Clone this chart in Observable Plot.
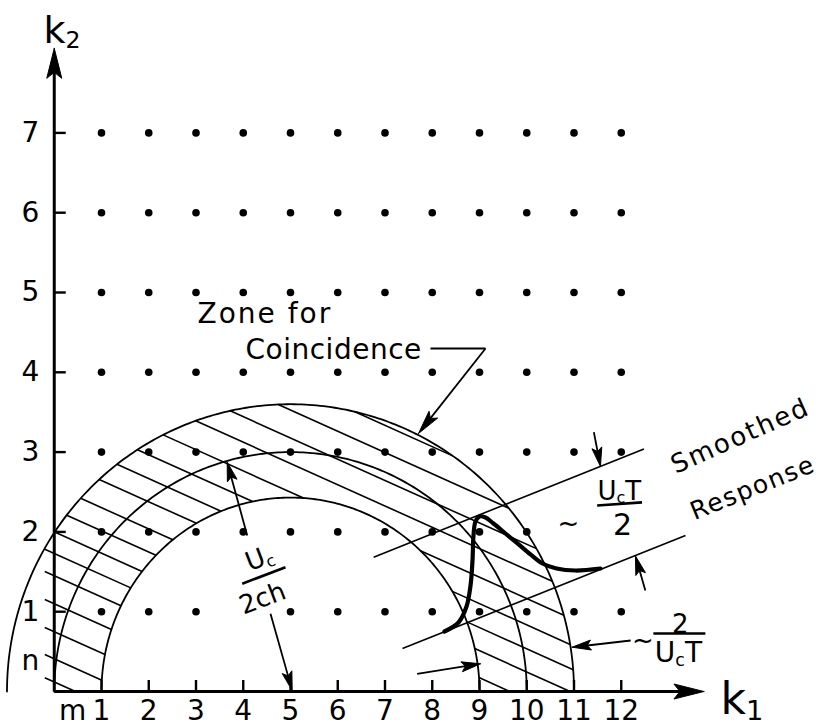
<!DOCTYPE html>
<html><head><meta charset="utf-8">
<script src="https://cdn.jsdelivr.net/npm/d3@7"></script>
<script src="https://cdn.jsdelivr.net/npm/@observablehq/plot@0.6"></script>
<style>html,body{margin:0;padding:0;background:#fff;} svg{display:block}</style>
</head><body><div id="chart"></div>
<script>
// ---------------- data ----------------
const k1Values = [1,2,3,4,5,6,7,8,9,10,11,12];
const k2Values = [1,2,3,4,5,6,7];
const hiddenDots = [[4,1],[11,2],[12,2]];
const xTickValues = [0.39,1,2,3,4,5,6,7,8,9,10,11,12];
const xTickLabels = ["m","1","2","3","4","5","6","7","8","9","10","11","12"];
const yTickValues = [0.38,1,2,3,4,5,6,7];
const yTickLabels = ["n","1","2","3","4","5","6","7"];

const circleCenter = 5;
const circleRx = [4, 5, 6];
const circleRy = [2.43, 3.0, 3.6];

const hatchIntercepts = [0.12,0.41,0.75,1.1,1.45,1.73,2.0,2.28,2.57,2.91,3.2,3.5,3.83,4.19,4.51,4.86,5.2];
const hatchSlope = -0.2665;
const hatchLeftLimit = -0.2;

const responseK1 = [8.259,8.556,8.725,8.810,8.852,8.873,8.915,9.0,9.127,9.296,9.550,9.804,10.079,10.333,10.630,11.032,11.561];
const responseK2 = [0.752,0.865,1.065,1.328,1.642,1.955,2.130,2.193,2.180,2.105,1.980,1.855,1.717,1.604,1.541,1.516,1.541];

const boundLines = [
  {x1:6.76, y1:1.683, x2:12.48, y2:3.04},
  {x1:7.37, y1:0.539, x2:13.36, y2:1.955}
];

const arrows = [
  {x1:0, y1:0, x2:13.75, y2:0, kind:"axis"},
  {x1:0, y1:0, x2:0, y2:8.06, kind:"axis"},
  {x1:9.127, y1:4.298, x2:7.709, y2:3.233, kind:"big"},
  {x1:11.42, y1:3.25, x2:11.56, y2:2.82, kind:"small"},
  {x1:12.51, y1:1.266, x2:12.30, y2:1.70, kind:"small"},
  {x1:12.20, y1:0.639, x2:10.96, y2:0.555, kind:"small"},
  {x1:7.68, y1:0.222, x2:9.02, y2:0.347, kind:"small"},
  {x1:4.084, y1:1.955, x2:3.660, y2:2.873, kind:"small"},
  {x1:4.577, y1:0.974, x2:5.036, y2:0.0125, kind:"small"}
];
const leaderLines = [{x1:7.963, y1:4.298, x2:9.127, y2:4.298}];

const fractionBars = [
  {x1:11.49, y1:2.33, x2:12.44, y2:2.37},
  {x1:12.68, y1:0.727, x2:13.78, y2:0.727},
  {x1:3.978, y1:1.35, x2:4.894, y2:1.558}
];

const labels = [
  {t:"Zone for", x:3.032, y:4.73, size:28, anchor:"start"},
  {t:"Coincidence", x:4.048, y:4.273, size:28, anchor:"start"},
  {t:"Smoothed", x:14.52, y:3.2, size:26, rotate:-24},
  {t:"Response", x:14.78, y:2.55, size:25, rotate:-22},
  {t:"~", x:10.88, y:2.105, size:26},
  {t:"U_cT", x:11.96, y:2.506, size:26},
  {t:"2", x:12.03, y:2.08, size:30},
  {t:"~", x:12.46, y:0.639, size:26},
  {t:"2", x:13.25, y:0.84, size:26},
  {t:"U_cT", x:13.21, y:0.476, size:28},
  {t:"U_c", x:4.344, y:1.667, size:26, rotate:-21},
  {t:"2ch", x:4.407, y:1.165, size:26, rotate:-21},
  {t:"k_2", x:-0.228, y:8.13, size:38, anchor:"start", line:"bottom"},
  {t:"k_1", x:14.1, y:-0.276, size:44, anchor:"start", line:"bottom"}
];

// ---------------- geometry helpers ----------------
const W = 824, H = 727;
const mL = 53.75, mR = 203.25, mT = 132.4, mB = 36;
const sx = d3.scaleLinear([0, 12], [mL, W - mR]);
const sy = d3.scaleLinear([0, 7], [H - mB, mT]);

const dots = [];
for (const b of k2Values) for (const a of k1Values)
  if (!hiddenDots.some(([p,q]) => p === a && q === b)) dots.push({k1:a, k2:b});

const circlePts = [];
circleRx.forEach((rx, i) => {
  const ry = circleRy[i];
  for (let j = 0; j <= 240; j++) {
    const t = Math.PI * j / 240;
    circlePts.push({id:i, x: circleCenter + rx*Math.cos(t), y: ry*Math.sin(t)});
  }
});

function ellipseSpan(b, rx, ry) {
  const s = hatchSlope, c = circleCenter;
  const A = 1/(rx*rx) + s*s/(ry*ry);
  const B = -2*c/(rx*rx) + 2*b*s/(ry*ry);
  const C = c*c/(rx*rx) + b*b/(ry*ry) - 1;
  const D = B*B - 4*A*C;
  if (D <= 0) return null;
  const r = Math.sqrt(D);
  return [(-B - r)/(2*A), (-B + r)/(2*A)];
}
const hatch = [];
for (const b of hatchIntercepts) {
  const outer = ellipseSpan(b, circleRx[2], circleRy[2]);
  if (!outer) continue;
  const lo = Math.max(outer[0], hatchLeftLimit);
  const hi = Math.min(outer[1], -b/hatchSlope);
  if (lo >= hi) continue;
  const inner = ellipseSpan(b, circleRx[0], circleRy[0]);
  let segs = inner ? [[lo, Math.min(hi, inner[0])], [Math.max(lo, inner[1]), hi]] : [[lo, hi]];
  for (const [a, c] of segs) if (c - a > 1e-3)
    hatch.push({x1:a, y1:b + hatchSlope*a, x2:c, y2:b + hatchSlope*c});
}

const headStyle = {axis:{len:30, hw:7.5, sw:3}, big:{len:24, hw:5.5, sw:1.8}, small:{len:19, hw:5, sw:1.8}};
const shafts = [], heads = [];
arrows.forEach((a, i) => {
  const st = headStyle[a.kind];
  const X1 = sx(a.x1), Y1 = sy(a.y1), X2 = sx(a.x2), Y2 = sy(a.y2);
  const L = Math.hypot(X2 - X1, Y2 - Y1), ux = (X2 - X1)/L, uy = (Y2 - Y1)/L;
  const bx = X2 - ux*st.len, by = Y2 - uy*st.len;
  const nx = X2 - ux*st.len*0.8, ny = Y2 - uy*st.len*0.8;
  shafts.push({x1:a.x1, y1:a.y1, x2:sx.invert(nx), y2:sy.invert(ny), sw:st.sw});
  const pts = [[X2,Y2],[bx - uy*st.hw, by + ux*st.hw],[nx, ny],[bx + uy*st.hw, by - ux*st.hw],[X2,Y2]];
  pts.forEach(([px,py]) => heads.push({id:i, x:sx.invert(px), y:sy.invert(py)}));
});

const responseCurve = responseK1.map((v, i) => ({x:v, y:responseK2[i]}));

// ---------------- plot ----------------
const marks = [
  Plot.line(circlePts, {x:"x", y:"y", z:"id", stroke:"black", strokeWidth:1.8}),
  Plot.link(hatch, {x1:"x1", y1:"y1", x2:"x2", y2:"y2", stroke:"black", strokeWidth:1.6}),
  Plot.link(boundLines, {x1:"x1", y1:"y1", x2:"x2", y2:"y2", stroke:"black", strokeWidth:1.6}),
  Plot.dot(dots, {x:"k1", y:"k2", r:3.8, fill:"black"}),
  Plot.line(responseCurve, {x:"x", y:"y", curve:"catmull-rom", stroke:"black", strokeWidth:4.2, strokeLinecap:"round", strokeLinejoin:"round"}),
  Plot.link(shafts.filter(s => s.sw > 2), {x1:"x1", y1:"y1", x2:"x2", y2:"y2", stroke:"black", strokeWidth:3}),
  Plot.link(shafts.filter(s => s.sw <= 2), {x1:"x1", y1:"y1", x2:"x2", y2:"y2", stroke:"black", strokeWidth:1.8}),
  Plot.link(leaderLines, {x1:"x1", y1:"y1", x2:"x2", y2:"y2", stroke:"black", strokeWidth:1.8}),
  Plot.line(heads, {x:"x", y:"y", z:"id", fill:"black", stroke:"black", strokeWidth:1}),
  Plot.link(fractionBars, {x1:"x1", y1:"y1", x2:"x2", y2:"y2", stroke:"black", strokeWidth:2.6}),
  Plot.ruleX(k1Values, {x:d => d, y1:0, y2:0, insetTop:-11, stroke:"black", strokeWidth:2.4}),
  Plot.ruleY(k2Values, {y:d => d, x1:0, x2:0, insetRight:-12, stroke:"black", strokeWidth:2.4}),
  ...labels.map(l => Plot.text([l], {x:"x", y:"y", text:"t", fontSize:l.size, rotate:l.rotate || 0,
      textAnchor:l.anchor || "middle", lineAnchor:l.line || "middle", fill:"black"}))
];

const svg = Plot.plot({
  width: W, height: H,
  marginLeft: mL, marginRight: mR, marginTop: mT, marginBottom: mB,
  style: {fontFamily: "'DejaVu Sans', sans-serif", fontSize: "28px", background: "#fff", color: "#000"},
  x: {domain: [0, 12], ticks: xTickValues, tickFormat: d => xTickLabels[xTickValues.indexOf(d)], tickSize: 0, tickPadding: 9, label: null},
  y: {domain: [0, 7], ticks: yTickValues, tickFormat: d => yTickLabels[yTickValues.indexOf(d)], tickSize: 0, tickPadding: 15, label: null},
  marks
});
document.getElementById("chart").appendChild(svg);

// subscripts (e.g. U_c, k_1) and letter spacing
const NS = "http://www.w3.org/2000/svg";
const spacing = {"Zone for": 2, "Smoothed": 2, "Response": 1.5, "Coincidence": 0.5};
svg.querySelectorAll("text").forEach(t => {
  const s = t.textContent;
  if (spacing[s] != null) t.setAttribute("letter-spacing", spacing[s]);
  if (!s.includes("_")) return;
  const fs = parseFloat(getComputedStyle(t).fontSize) || 28;
  const parts = s.split(/_(.)/);
  t.textContent = "";
  let shifted = 0;
  parts.forEach((p, i) => {
    if (!p) return;
    const ts = document.createElementNS(NS, "tspan");
    ts.textContent = p;
    if (i % 2 === 1) {
      ts.setAttribute("font-size", (fs*0.62).toFixed(1));
      ts.setAttribute("dy", (fs*0.14).toFixed(1));
      shifted = fs*0.14;
    } else if (shifted) {
      ts.setAttribute("dy", (-shifted).toFixed(1));
      shifted = 0;
    }
    t.appendChild(ts);
  });
});
</script>
</body></html>
